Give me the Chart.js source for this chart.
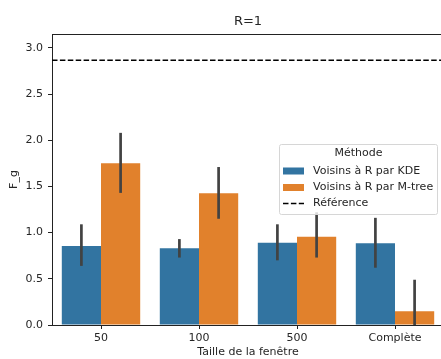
<!DOCTYPE html>
<html>
<head>
<meta charset="utf-8">
<script src="https://cdn.jsdelivr.net/npm/chart.js@4.4.1/dist/chart.umd.min.js"></script>
<style>
  html, body { margin: 0; padding: 0; background: #fff; overflow: hidden; }
</style>
</head>
<body>
<canvas id="myChart" width="445" height="359" style="width:445px;height:359px"></canvas>
<script>
// values
var categories = ['50', '100', '500', 'Complète'];
var kdeMean = [0.855, 0.83, 0.89, 0.885];
var kdeLow = [0.64, 0.73, 0.70, 0.62];
var kdeHigh = [1.09, 0.93, 1.09, 1.16];
var mtreeMean = [1.75, 1.425, 0.955, 0.15];
var mtreeLow = [1.43, 1.15, 0.73, 0.0];
var mtreeHigh = [2.08, 1.71, 1.22, 0.49];
var refValue = 2.865;
var yTicks = [0, 0.5, 1, 1.5, 2, 2.5, 3];

var seriesNames = ['Voisins à R par KDE', 'Voisins à R par M-tree'];
var refName = 'Référence';
var legendTitle = 'Méthode';
var chartTitle = 'R=1';

var colors = ['#3274a1', '#e1812c'];
var textColor = '#262626';
var font = 'DejaVu Sans';

var lows = [kdeLow, mtreeLow];
var highs = [kdeHigh, mtreeHigh];

var extras = {
  id: 'extras',
  afterDatasetsDraw: function (chart) {
    var ctx = chart.ctx;
    var y = chart.scales.y;
    var area = chart.chartArea;

    // error bars
    ctx.save();
    ctx.strokeStyle = '#424242';
    ctx.lineWidth = 2.7;
    for (var d = 0; d < 2; d++) {
      var meta = chart.getDatasetMeta(d);
      meta.data.forEach(function (bar, i) {
        ctx.beginPath();
        ctx.moveTo(bar.x, y.getPixelForValue(lows[d][i]));
        ctx.lineTo(bar.x, y.getPixelForValue(highs[d][i]));
        ctx.stroke();
      });
    }
    ctx.restore();

    // reference line
    var ry = y.getPixelForValue(refValue);
    ctx.save();
    ctx.strokeStyle = '#000';
    ctx.lineWidth = 1.5;
    ctx.setLineDash([5.5, 2.4]);
    ctx.beginPath();
    ctx.moveTo(area.left, ry);
    ctx.lineTo(area.right, ry);
    ctx.stroke();
    ctx.restore();

    // top spine
    ctx.save();
    ctx.strokeStyle = '#222';
    ctx.lineWidth = 1;
    ctx.beginPath();
    ctx.moveTo(area.left, area.top + 0.5);
    ctx.lineTo(area.right, area.top + 0.5);
    ctx.stroke();
    ctx.restore();

    // title
    ctx.save();
    ctx.fillStyle = textColor;
    ctx.font = '13px "' + font + '"';
    ctx.textAlign = 'center';
    ctx.textBaseline = 'middle';
    ctx.fillText(chartTitle, (area.left + area.right) / 2, 21.5);
    ctx.restore();

    // legend
    var lx = 279.5, ly = 144.5, lw = 158, lh = 70;
    ctx.save();
    ctx.fillStyle = 'rgba(255,255,255,0.8)';
    ctx.strokeStyle = '#d6d6d6';
    ctx.lineWidth = 1;
    ctx.beginPath();
    ctx.roundRect(lx, ly, lw, lh, 2);
    ctx.fill();
    ctx.stroke();
    ctx.fillStyle = textColor;
    ctx.font = '11px "' + font + '"';
    ctx.textBaseline = 'middle';
    ctx.textAlign = 'center';
    ctx.fillText(legendTitle, lx + lw / 2, 153.5);
    ctx.textAlign = 'left';
    var rows = [171, 187.5];
    for (var k = 0; k < 2; k++) {
      ctx.fillStyle = colors[k];
      ctx.fillRect(283, rows[k] - 3.5, 21, 7);
      ctx.fillStyle = textColor;
      ctx.fillText(seriesNames[k], 313, rows[k]);
    }
    ctx.strokeStyle = '#000';
    ctx.lineWidth = 1.5;
    ctx.setLineDash([5.5, 2.4]);
    ctx.beginPath();
    ctx.moveTo(283, 203.5);
    ctx.lineTo(304, 203.5);
    ctx.stroke();
    ctx.fillText(refName, 313, 203.5);
    ctx.restore();
  }
};

new Chart(document.getElementById('myChart'), {
  type: 'bar',
  data: {
    labels: categories,
    datasets: [
      { label: seriesNames[0], data: kdeMean, backgroundColor: colors[0] },
      { label: seriesNames[1], data: mtreeMean, backgroundColor: colors[1] }
    ]
  },
  options: {
    responsive: false,
    animation: false,
    devicePixelRatio: 1,
    layout: { padding: { top: 34, right: 1, left: 0, bottom: 0 } },
    datasets: { bar: { categoryPercentage: 0.8, barPercentage: 1.0 } },
    plugins: { legend: { display: false }, tooltip: { enabled: false } },
    scales: {
      x: {
        offset: true,
        grid: { display: true, drawOnChartArea: false, offset: false, tickLength: 4, tickColor: '#222' },
        border: { display: true, color: '#222', width: 1 },
        ticks: { color: textColor, font: { family: font, size: 11 }, padding: 3 },
        title: { display: true, text: 'Taille de la fenêtre', color: textColor, font: { family: font, size: 11 }, padding: { top: 0, bottom: 0 } },
        afterFit: function (s) { s.height = 34; }
      },
      y: {
        min: 0,
        max: 3.15,
        afterBuildTicks: function (s) { s.ticks = yTicks.map(function (v) { return { value: v }; }); },
        grid: { display: true, drawOnChartArea: false, tickLength: 4, tickColor: '#222' },
        border: { display: true, color: '#222', width: 1 },
        ticks: { color: textColor, font: { family: font, size: 11 }, padding: 5, callback: function (v) { return Number(v).toFixed(1); } },
        title: { display: true, text: 'F_g', color: textColor, font: { family: font, size: 11 }, padding: { top: 8, bottom: 0 } },
        afterFit: function (s) { s.width = 52; }
      }
    }
  },
  plugins: [extras]
});
</script>
</body>
</html>
